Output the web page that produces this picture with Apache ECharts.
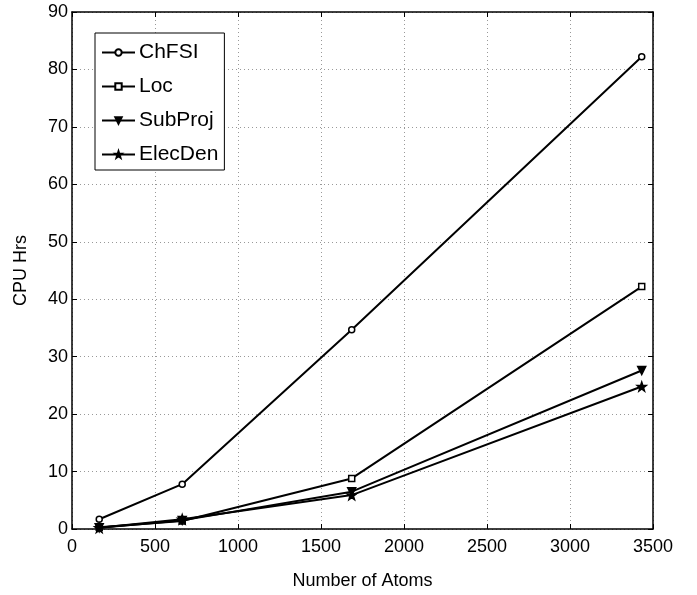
<!DOCTYPE html>
<html><head><meta charset="utf-8">
<script src="https://cdn.jsdelivr.net/npm/echarts@6/dist/echarts.min.js"></script>
<style>html,body{margin:0;padding:0;background:#fff}#c{width:697px;height:595px}</style>
</head><body><div id="c"></div>
<script>
const atoms = [164, 664, 1685, 3432];
const chfsi = [1.7, 7.8, 34.7, 82.2];
const loc = [0.3, 1.4, 8.8, 42.2];
const subproj = [0.2, 1.5, 6.5, 27.6];
const elecden = [0.2, 1.7, 5.9, 24.8];
const xTicks = {min: 0, max: 3500, interval: 500};
const yTicks = {min: 0, max: 90, interval: 10};

const star = 'path://M0,-10 L2.35,-3.24 L9.51,-3.09 L3.8,1.24 L5.88,8.09 L0,4 L-5.88,8.09 L-3.8,1.24 L-9.51,-3.09 L-2.35,-3.24 Z';
const font = 'Liberation Sans, Arial, sans-serif';
function pts(ys){ return atoms.map((x,i)=>[x, ys[i]]); }
function ser(name, ys, symbol, size, fill, rot){
  return {name, type:'line', data: pts(ys), symbol, symbolSize: size, symbolRotate: rot||0,
    showAllSymbol:true, lineStyle:{color:'#000', width:2}, itemStyle:{color: fill, borderColor:'#000', borderWidth:1.5},
    emphasis:{disabled:true}, z: 3};
}
const gridLine = {show:true, lineStyle:{color:'#999', type:[1,3], width:1}};
const chart = echarts.init(document.getElementById('c'), null, {renderer:'canvas'});
chart.setOption({
  animation:false,
  backgroundColor:'#fff',
  grid:{left:72, right:44, top:12, bottom:66},
  legend:{
    orient:'vertical', left:95, top:33, itemWidth:33, itemHeight:8, itemGap:13, align:'left',
    borderColor:'#000', borderWidth:1, padding:[9,6,5,6], backgroundColor:'#fff',
    textStyle:{fontFamily:font, fontSize:21, color:'#000', padding:[0,0,0,-1]},
    data:['ChFSI','Loc','SubProj','ElecDen']
  },
  xAxis:[{type:'value', min:xTicks.min, max:xTicks.max, interval:xTicks.interval,
    name:'Number of Atoms', nameLocation:'middle', nameGap:43,
    nameTextStyle:{fontFamily:font, fontSize:18, color:'#000'},
    axisLine:{show:true, lineStyle:{color:'#000', width:1.5}},
    axisTick:{show:true, inside:true, length:5, lineStyle:{color:'#000'}},
    axisLabel:{fontFamily:font, fontSize:18, color:'#000', margin:9, formatter: v => String(v)},
    splitLine:gridLine},
   {type:'value', position:'top', min:xTicks.min, max:xTicks.max, interval:xTicks.interval,
    axisLine:{show:true, onZero:false, lineStyle:{color:'#000', width:1.5}},
    axisTick:{show:true, inside:true, length:5, lineStyle:{color:'#000'}},
    axisLabel:{show:false}, splitLine:{show:false}}],
  yAxis:[{type:'value', min:yTicks.min, max:yTicks.max, interval:yTicks.interval,
    name:'CPU Hrs', nameLocation:'middle', nameGap:42,
    nameTextStyle:{fontFamily:font, fontSize:18, color:'#000'},
    axisLine:{show:true, lineStyle:{color:'#000', width:1.5}},
    axisTick:{show:true, inside:true, length:5, lineStyle:{color:'#000'}},
    axisLabel:{fontFamily:font, fontSize:18, color:'#000', margin:4},
    splitLine:gridLine},
   {type:'value', position:'right', min:yTicks.min, max:yTicks.max, interval:yTicks.interval,
    axisLine:{show:true, onZero:false, lineStyle:{color:'#000', width:1.5}},
    axisTick:{show:true, inside:true, length:5, lineStyle:{color:'#000'}},
    axisLabel:{show:false}, splitLine:{show:false}}],
  series:[
    ser('ChFSI', chfsi, 'circle', 6, '#fff'),
    ser('Loc', loc, 'rect', 6, '#fff'),
    ser('SubProj', subproj, 'triangle', 8, '#000', 180),
    ser('ElecDen', elecden, star, 9, '#000')
  ]
});
</script></body></html>
